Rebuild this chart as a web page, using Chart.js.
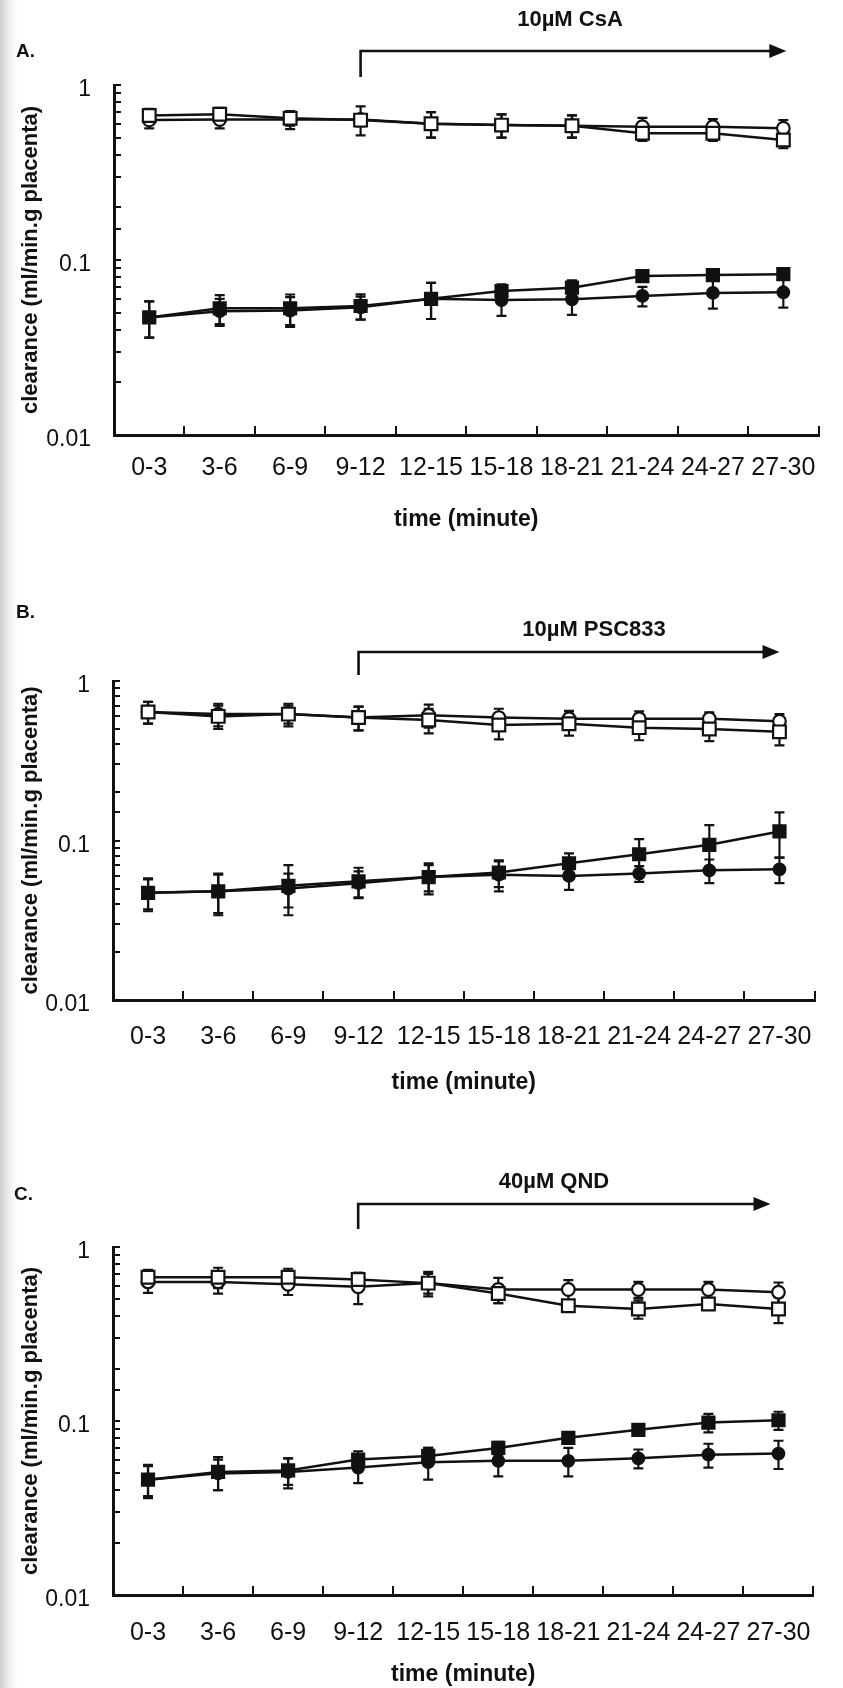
<!DOCTYPE html>
<html><head><meta charset="utf-8">
<script src="https://cdn.jsdelivr.net/npm/chart.js@4.4.1/dist/chart.umd.min.js"></script>
<style>
html,body{margin:0;padding:0;}
body{width:843px;height:1688px;position:relative;overflow:hidden;
 background:linear-gradient(to right,#cfcfcf 0px,#e4e4e4 6px,#f5f5f5 12px,#fff 18px);}
canvas{position:absolute;left:0;}
</style></head><body>
<canvas id="cA" width="843" height="560" style="top:0px"></canvas>
<canvas id="cB" width="843" height="560" style="top:560px"></canvas>
<canvas id="cC" width="843" height="568" style="top:1120px"></canvas>
<script>
// ---------- data ----------
const categories = ['0-3','3-6','6-9','9-12','12-15','15-18','18-21','21-24','24-27','27-30'];
const yLabelValues = [1, 0.1, 0.01];

// Panel A (10uM CsA)
const aOpenSq    = [0.67, 0.68, 0.645, 0.63, 0.60, 0.59, 0.585, 0.53, 0.53, 0.485];
const aOpenSqErr = [0.06, 0.06, 0.06, 0.05, 0.10, 0.09, 0.085, 0.05, 0.05, 0.05];
const aOpenCi    = [0.63, 0.635, 0.635, 0.635, 0.60, 0.59, 0.585, 0.578, 0.578, 0.566];
const aOpenCiErr = [0.065, 0.07, 0.075, 0.12, 0.10, 0.09, 0.085, 0.07, 0.06, 0.065];
const aFillSq    = [0.047, 0.053, 0.053, 0.0546, 0.060, 0.0665, 0.0695, 0.081, 0.082, 0.083];
const aFillSqErr = [0.011, 0.010, 0.0105, 0.009, 0.014, 0.006, 0.007, 0.004, 0.004, 0.005];
const aFillCi    = [0.047, 0.051, 0.0514, 0.0537, 0.060, 0.059, 0.0596, 0.0623, 0.0648, 0.0654];
const aFillCiErr = [0.011, 0.009, 0.010, 0.008, 0.014, 0.011, 0.011, 0.008, 0.012, 0.012];

// Panel B (10uM PSC833)
const bOpenSq    = [0.64, 0.60, 0.62, 0.59, 0.57, 0.53, 0.54, 0.51, 0.50, 0.48];
const bOpenSqErr = [0.10, 0.10, 0.10, 0.10, 0.10, 0.10, 0.085, 0.085, 0.08, 0.085];
const bOpenCi    = [0.64, 0.62, 0.62, 0.59, 0.61, 0.59, 0.58, 0.58, 0.58, 0.56];
const bOpenCiErr = [0.10, 0.10, 0.08, 0.10, 0.10, 0.08, 0.07, 0.065, 0.055, 0.06];
const bFillSq    = [0.047, 0.048, 0.052, 0.0555, 0.059, 0.063, 0.072, 0.082, 0.094, 0.114];
const bFillSqErr = [0.010, 0.013, 0.018, 0.012, 0.011, 0.012, 0.011, 0.020, 0.031, 0.036];
const bFillCi    = [0.047, 0.048, 0.050, 0.054, 0.059, 0.061, 0.060, 0.062, 0.065, 0.066];
const bFillCiErr = [0.011, 0.014, 0.012, 0.010, 0.013, 0.013, 0.011, 0.007, 0.011, 0.012];

// Panel C (40uM QND)
const cOpenSq    = [0.67, 0.67, 0.67, 0.65, 0.62, 0.54, 0.46, 0.44, 0.47, 0.44];
const cOpenSqErr = [0.07, 0.09, 0.08, 0.06, 0.08, 0.065, 0.03, 0.053, 0.03, 0.075];
const cOpenCi    = [0.63, 0.63, 0.61, 0.59, 0.62, 0.57, 0.57, 0.57, 0.57, 0.55];
const cOpenCiErr = [0.085, 0.09, 0.08, 0.12, 0.10, 0.095, 0.075, 0.06, 0.06, 0.075];
const cFillSq    = [0.046, 0.051, 0.052, 0.060, 0.063, 0.070, 0.080, 0.089, 0.098, 0.101];
const cFillSqErr = [0.010, 0.011, 0.009, 0.007, 0.007, 0.006, 0.006, 0.007, 0.012, 0.012];
const cFillCi    = [0.046, 0.050, 0.051, 0.054, 0.058, 0.059, 0.059, 0.061, 0.064, 0.065];
const cFillCiErr = [0.009, 0.010, 0.010, 0.010, 0.012, 0.011, 0.011, 0.0076, 0.010, 0.012];

// ---------- drawing ----------
const FONT = "'Liberation Sans', Arial, Helvetica, sans-serif";
const INK = '#111';

const decorPlugin = {
  id: 'decor',
  beforeDatasetsDraw(chart) {
    const ctx = chart.ctx, ys = chart.scales.y;
    ctx.save();
    ctx.strokeStyle = INK; ctx.lineWidth = 2.2;
    chart.data.datasets.forEach((ds, i) => {
      const meta = chart.getDatasetMeta(i);
      if (!ds.errors) return;
      ds.data.forEach((v, j) => {
        const e = ds.errors[j], p = meta.data[j];
        const yHi = ys.getPixelForValue(v + e);
        const yLo = ys.getPixelForValue(Math.max(v - e, 1e-4));
        ctx.beginPath();
        ctx.moveTo(p.x, yHi); ctx.lineTo(p.x, yLo);
        ctx.moveTo(p.x - 5, yHi); ctx.lineTo(p.x + 5, yHi);
        ctx.moveTo(p.x - 5, yLo); ctx.lineTo(p.x + 5, yLo);
        ctx.stroke();
      });
    });
    ctx.restore();
  },
  afterDraw(chart) {
    const o = chart.options.plugins.decor, ctx = chart.ctx, xs = chart.scales.x;
    ctx.save();
    ctx.fillStyle = INK; ctx.strokeStyle = INK;
    ctx.font = 'bold 19px ' + FONT;
    ctx.textAlign = 'left'; ctx.textBaseline = 'middle';
    ctx.fillText(o.letter, o.letterX, o.letterY);
    ctx.font = 'bold 22px ' + FONT;
    ctx.textAlign = 'center';
    ctx.fillText(o.title, o.titleX, o.titleY);
    const x0 = xs.getPixelForValue(categories.indexOf(o.from));
    const x1 = xs.getPixelForValue(categories.indexOf(o.to)) + o.tipDx;
    ctx.lineWidth = 2.6;
    ctx.beginPath();
    ctx.moveTo(x0, o.arrowBottom); ctx.lineTo(x0, o.arrowTop); ctx.lineTo(x1 - 14, o.arrowTop);
    ctx.stroke();
    ctx.beginPath();
    ctx.moveTo(x1, o.arrowTop); ctx.lineTo(x1 - 17, o.arrowTop - 7); ctx.lineTo(x1 - 17, o.arrowTop + 7);
    ctx.closePath(); ctx.fill();
    ctx.restore();
  }
};

function isDecade(v) {
  const l = Math.log10(v);
  return Math.abs(l - Math.round(l)) < 1e-9;
}

function makePanel(id, s, L) {
  const common = {borderColor: INK, borderWidth: 2.5, tension: 0, fill: false,
                  pointBorderColor: INK, pointBorderWidth: 2.2};
  return new Chart(document.getElementById(id), {
    type: 'line',
    data: {
      labels: categories,
      datasets: [
        Object.assign({data: s.openSq, errors: s.openSqErr, pointStyle: 'rect', pointRadius: 9,
                       pointBackgroundColor: '#fff'}, common),
        Object.assign({data: s.openCi, errors: s.openCiErr, pointStyle: 'circle', pointRadius: 6.3,
                       pointBackgroundColor: '#fff'}, common),
        Object.assign({data: s.fillSq, errors: s.fillSqErr, pointStyle: 'rect', pointRadius: 8.5,
                       pointBackgroundColor: INK}, common),
        Object.assign({data: s.fillCi, errors: s.fillCiErr, pointStyle: 'circle', pointRadius: 5.8,
                       pointBackgroundColor: INK}, common)
      ]
    },
    options: {
      responsive: false, animation: false, devicePixelRatio: 1,
      layout: {padding: {top: L.top, right: L.right, left: 0, bottom: 0}},
      plugins: {legend: {display: false}, tooltip: {enabled: false}, decor: L.decor},
      scales: {
        x: {
          type: 'category', offset: true,
          grid: {offset: true, drawOnChartArea: false, drawTicks: true, tickLength: -9, color: INK, lineWidth: 2},
          border: {display: true, color: INK, width: 3},
          ticks: {font: {family: FONT, size: 25}, color: INK, padding: L.xPad, maxRotation: 0, autoSkip: false},
          title: {display: true, text: 'time (minute)', color: INK,
                  font: {family: FONT, size: 23, weight: 'bold'}, padding: {top: 0, bottom: L.xTitlePad}},
          afterFit(sc) { sc.height = L.xH; }
        },
        y: {
          type: 'logarithmic', min: 0.01, max: 1,
          grid: {drawOnChartArea: false, drawTicks: true, tickLength: -7, color: INK, lineWidth: 2},
          border: {display: true, color: INK, width: 3},
          ticks: {font: {family: FONT, size: 23}, color: INK, padding: 30, labelOffset: 5, autoSkip: false,
                  callback: (v) => (isDecade(v) && yLabelValues.some(t => Math.abs(t - v) < 1e-9)) ? String(+v.toPrecision(3)) : ''},
          title: {display: true, text: 'clearance (ml/min.g placenta)', color: INK,
                  font: {family: FONT, size: 22, weight: 'bold'}, padding: {top: 18, bottom: 0}},
          afterFit(sc) { sc.width = L.yW; }
        }
      }
    },
    plugins: [decorPlugin]
  });
}

makePanel('cA',
  {openSq: aOpenSq, openSqErr: aOpenSqErr, openCi: aOpenCi, openCiErr: aOpenCiErr,
   fillSq: aFillSq, fillSqErr: aFillSqErr, fillCi: aFillCi, fillCiErr: aFillCiErr},
  {top: 85, right: 14, yW: 114, xH: 125, xPad: 27, xTitlePad: 27,
   decor: {letter: 'A.', letterX: 16, letterY: 52, title: '10\u00b5M CsA', titleX: 570, titleY: 20,
           from: '9-12', to: '27-30', tipDx: 3, arrowTop: 51, arrowBottom: 77}});

makePanel('cB',
  {openSq: bOpenSq, openSqErr: bOpenSqErr, openCi: bOpenCi, openCiErr: bOpenCiErr,
   fillSq: bFillSq, fillSqErr: bFillSqErr, fillCi: bFillCi, fillCiErr: bFillCiErr},
  {top: 121, right: 3, yW: 113, xH: 120, xPad: 31, xTitlePad: 24,
   decor: {letter: 'B.', letterX: 16, letterY: 53, title: '10\u00b5M PSC833', titleX: 594, titleY: 70,
           from: '9-12', to: '27-30', tipDx: 0, arrowTop: 92, arrowBottom: 115}});

makePanel('cC',
  {openSq: cOpenSq, openSqErr: cOpenSqErr, openCi: cOpenCi, openCiErr: cOpenCiErr,
   fillSq: cFillSq, fillSqErr: cFillSqErr, fillCi: cFillCi, fillCiErr: cFillCiErr},
  {top: 127, right: 0, yW: 113, xH: 93, xPad: 32, xTitlePad: 0,
   decor: {letter: 'C.', letterX: 14, letterY: 75, title: '40\u00b5M QND', titleX: 554, titleY: 62,
           from: '9-12', to: '27-30', tipDx: -8, arrowTop: 84, arrowBottom: 109}});
</script>
</body></html>
